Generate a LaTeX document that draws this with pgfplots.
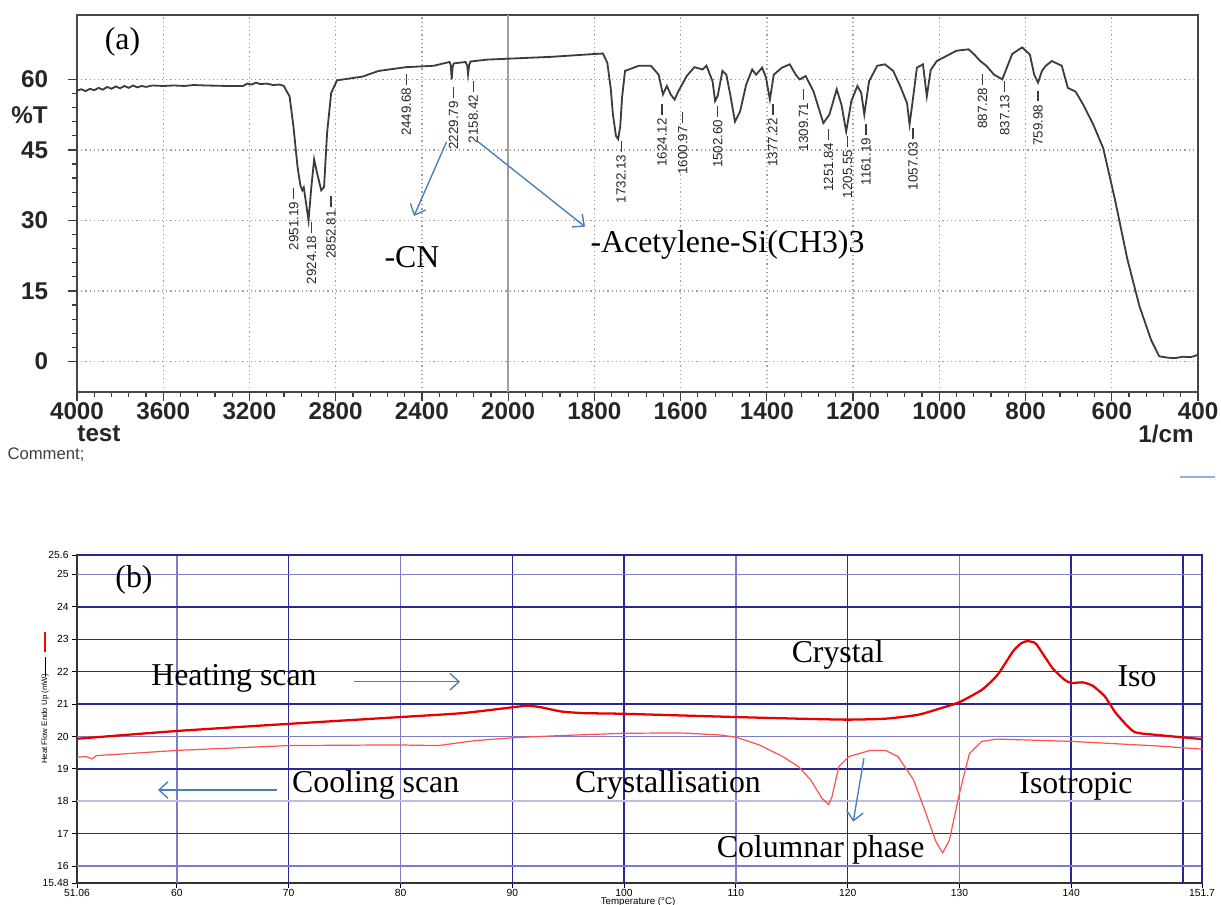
\documentclass[border=0pt]{standalone}
\usepackage{pgfplots}
\pgfplotsset{compat=1.18}
\usepackage{fontspec}
\setmainfont{Liberation Serif}
\newfontfamily\arial{Liberation Sans}
\usetikzlibrary{arrows.meta}
\definecolor{navy}{RGB}{40,40,150}
\definecolor{slate}{RGB}{125,125,200}
\definecolor{arrowblue}{RGB}{74,126,187}
\definecolor{heat}{RGB}{232,0,0}
\definecolor{cool}{RGB}{255,80,80}
\definecolor{irline}{RGB}{60,60,60}
\tikzset{
  ann/.style={font=\fontsize{10.5}{12}\selectfont, inner sep=0pt},
  arr/.style={arrowblue, line width=0.45pt, -{Straight Barb[length=3pt,width=5.5pt]}},
  pkl/.style={rotate=90, anchor=east, font=\arial\fontsize{4.4}{5}\selectfont, inner sep=0.4pt, text=black!85},
}
\newcommand{\pk}[3]{%
  \pgfmathsetmacro\pka{#2+0.3}\pgfmathsetmacro\pkb{#2+2.6}%
  \edef\pktmp{\noexpand\node[pkl] at (axis cs:#1,#2) {#3};
    \noexpand\draw[irline, line width=0.4pt] (axis cs:#1,\pka) -- (axis cs:#1,\pkb);}%
  \pktmp}
\begin{document}
\begin{tikzpicture}
\useasboundingbox (0,0) rectangle (402.93pt,298.65pt);
% ---------------- panel (a) ----------------
\begin{axis}[
  at={(25.41pt,169.29pt)}, anchor=south west, scale only axis,
  width=369.93pt, height=124.41pt,
  x coord trafo/.code={\pgfmathparse{(#1>=2000)*((4000-#1)/400)+(#1<2000)*(5+(2000-#1)/200)}},
  xmin=4000, xmax=400, ymin=-6.5, ymax=73.7,
  xtick={4000,3600,3200,2800,2400,2000,1800,1600,1400,1200,1000,800,600,400},
  xticklabels={4000,3600,3200,2800,2400,2000,1800,1600,1400,1200,1000,800,600,400},
  ytick={0,15,30,45,60},
  minor x tick num=4, minor y tick num=4,
  tick pos=left, tick align=outside,
  major tick length=3pt, minor tick length=1.6pt,
  tick style={irline, line width=0.4pt},
  /pgf/number format/assume math mode=true,
  ticklabel style={font=\arial\bfseries\fontsize{8}{9}\selectfont, text=black!85},
  xticklabel style={yshift=3pt},
  yticklabel style={xshift=-3pt},
  grid=major, major grid style={densely dotted, gray!75, line width=0.45pt},
  axis line style={gray!55!black, line width=0.5pt},
  clip=false,
]
\draw[gray!75, line width=0.5pt] (axis cs:2000,-6.5) -- (axis cs:2000,73.7);
\addplot[irline, line width=0.6pt] coordinates {
(4000,57.6) (3980,57.9) (3960,57.5) (3940,58.0) (3920,57.7) (3900,58.2) (3880,57.8) (3860,58.4)
(3840,58.0) (3820,58.5) (3800,58.1) (3780,58.6) (3760,58.2) (3740,58.7) (3720,58.3) (3700,58.6)
(3680,58.4) (3650,58.7) (3600,58.6) (3550,58.7) (3500,58.6) (3460,58.8) (3400,58.7) (3300,58.6)
(3230,58.6) (3210,59.1) (3190,58.9) (3170,59.3) (3150,59.0) (3120,59.1) (3090,58.8) (3060,58.9)
(3041,58.6) (3014,56.4) (2996,50) (2977,41.4) (2964,37.5) (2955,36.4) (2948,37) (2935,32.9)
(2926,30) (2913,37.1) (2900,43) (2886,40) (2867,36.4) (2854,37.1) (2840,48.6) (2821,57.1)
(2794,59.8) (2748,60.1) (2675,60.6) (2601,61.8) (2473,62.6) (2345,62.9) (2272,63.7) (2266,63)
(2262,60) (2258,62.5) (2253,63.4) (2198,63.7) (2190,63) (2186,61.1) (2181,63) (2175,63.8)
(2100,64.2) (2000,64.4) (1900,64.8) (1800,65.4) (1780,65.5) (1770,63.5) (1762,58) (1757,52.5)
(1750,48) (1745,47.3) (1740,50) (1736,56) (1729,61.8) (1697,62.9) (1669,62.9) (1651,61)
(1641,56.8) (1632,58.6) (1623,56.8) (1614,55.7) (1605,57.5) (1586,60.7) (1568,62.6) (1549,62.1)
(1540,62.9) (1526,59.6) (1520,55.4) (1514,56.5) (1503,61.8) (1494,61) (1485,56.8) (1474,51)
(1462,53.2) (1448,58.9) (1434,62.1) (1425,61) (1411,62.5) (1402,60.4) (1393,55.7) (1384,61)
(1365,62.5) (1347,63.2) (1333,61) (1324,60) (1310,60.7) (1292,57.5) (1269,50.7) (1255,52.5)
(1238,57.9) (1227,54.6) (1216,48.9) (1204,55.4) (1190,58.6) (1181,57.1) (1174,52.5) (1163,59.6)
(1144,62.9) (1126,63.2) (1107,61.8) (1089,58.2) (1080,56.1) (1075,55) (1069,50.4) (1061,56)
(1052,62.5) (1038,63.2) (1029,56.4) (1020,62) (1006,63.9) (960,66.1) (932,66.4) (919,65.3)
(905,63.9) (891,62.9) (873,61) (854,60) (831,65.4) (808,66.8) (790,65.3) (780,61)
(771,59.3) (762,61.8) (753,62.9) (739,63.9) (716,62.9) (702,58.2) (684,57.4) (666,54.6)
(643,50.4) (620,45.4) (593,34.6) (564,21.8) (536,11.8) (509,4.6) (490,1.1) (470,0.8)
(454,0.7) (435,1.0) (417,0.9) (400,1.4)
};
\pk{2995}{34.3}{2951.19}
\pk{2912}{27.1}{2924.18}
\pk{2822}{32.5}{2852.81}
\pk{2473}{58.6}{2449.68}
\pk{2253}{55.7}{2229.79}
\pk{2162}{57.1}{2158.42}
\pk{1738}{44.3}{1732.13}
\pk{1643}{52.1}{1624.12}
\pk{1595}{50.4}{1600.97}
\pk{1514}{51.8}{1502.60}
\pk{1386}{52.1}{1377.22}
\pk{1315}{55.4}{1309.71}
\pk{1257}{46.8}{1251.84}
\pk{1213}{45.4}{1205.55}
\pk{1170}{47.9}{1161.19}
\pk{1061}{47.1}{1057.03}
\pk{900}{58.6}{887.28}
\pk{848}{57.1}{837.13}
\pk{771}{55}{759.98}
\end{axis}
% ---------------- panel (b) ----------------
\begin{axis}[
  at={(25.41pt,7.26pt)}, anchor=south west, scale only axis,
  width=371.25pt, height=108.24pt,
  xmin=51.06, xmax=151.7, ymin=15.48, ymax=25.6,
  xtick={51.06,60,70,80,90,100,110,120,130,140,151.7},
  xticklabels={51.06,60,70,80,90,100,110,120,130,140,151.7},
  ytick={15.48,16,17,18,19,20,21,22,23,24,25,25.6},
  yticklabels={15.48,16,17,18,19,20,21,22,23,24,25,25.6},
  tick pos=left, tick align=outside, major tick length=1.6pt,
  tick style={black, line width=0.3pt},
  /pgf/number format/assume math mode=true,
  ticklabel style={font=\arial\fontsize{3.4}{4}\selectfont, inner sep=1pt},
  xticklabel style={yshift=0.6pt},
  axis line style={black!80, line width=0.4pt},
  clip=false,
]
\pgfplotsinvokeforeach{70,90,100,120,140,150}{\draw[navy, line width=0.5pt] (axis cs:#1,15.48) -- (axis cs:#1,25.6);}
\pgfplotsinvokeforeach{60,80,110,130}{\draw[slate, line width=0.5pt] (axis cs:#1,15.48) -- (axis cs:#1,25.6);}
\pgfplotsinvokeforeach{17,19,21,22,23,24}{\draw[navy, line width=0.5pt] (axis cs:51.06,#1) -- (axis cs:151.7,#1);}
\pgfplotsinvokeforeach{16,20,25}{\draw[slate, line width=0.6pt] (axis cs:51.06,#1) -- (axis cs:151.7,#1);}
\draw[slate!50, line width=0.6pt] (axis cs:51.06,18) -- (axis cs:151.7,18);
\draw[navy, line width=0.5pt] (axis cs:51.06,25.6) -- (axis cs:151.7,25.6) -- (axis cs:151.7,15.48);
% heating scan
\addplot[heat, line width=0.75pt, smooth, tension=0.35] coordinates {
(51.06,19.93) (60,20.17) (70,20.39) (80,20.6) (85.5,20.72) (90,20.9) (91.4,20.95) (92.6,20.9)
(94.4,20.77) (96.5,20.72) (100,20.7) (110,20.6) (115.6,20.55) (120,20.52) (123.4,20.55)
(126.3,20.67) (128.4,20.88) (130,21.06) (132,21.44) (133.4,21.9) (134.8,22.63) (135.5,22.87) (136,22.94)
(136.5,22.92) (136.9,22.84) (138.3,22.12) (139.4,21.75) (140,21.65) (141,21.67) (141.9,21.57) (143,21.24)
(144,20.72) (145.6,20.15) (147.6,20.05) (151.7,19.92)
};
% cooling scan
\addplot[cool, line width=0.4pt] coordinates {
(51.06,19.36) (51.9,19.38) (52.4,19.31) (52.8,19.41) (60,19.57) (70,19.72) (79.5,19.74)
(83.4,19.72) (86.6,19.87) (90,19.96) (93.7,20.02) (100,20.1) (105,20.11) (108.5,20.05)
(110,19.98) (112.1,19.74) (114.2,19.38) (115.6,19.07) (116.7,18.66) (117.7,18.09) (118.3,17.9)
(118.6,18.14) (119.2,19.07) (120.1,19.38) (122,19.57) (123.4,19.57) (124.5,19.38) (125.9,18.66)
(127,17.63) (127.9,16.75) (128.5,16.41) (129.1,16.8) (130,18.25) (130.9,19.48) (132,19.85)
(133.4,19.92) (140,19.85) (147.6,19.71) (151.7,19.61)
};
\end{axis}
% ---------------- annotations ----------------
\begin{scope}[x=0.33pt, y=-0.33pt, shift={(0pt,298.65pt)}]
\node[ann] at (122.5,41.7) {(a)};
\node[ann] at (412,256.7) {-CN};
\node[ann] at (727.5,245) {-Acetylene-Si(CH3)3};
\draw[arr] (446.6,141.7) -- (414,216);
\draw[arr] (478,141.7) -- (585,226.7);
\node[font=\arial\bfseries\fontsize{8}{9}\selectfont, text=black!85] at (29.6,115) {\%T};
\node[font=\arial\bfseries\fontsize{8}{9}\selectfont, text=black!85] at (99,434) {test};
\node[font=\arial\bfseries\fontsize{8}{9}\selectfont, text=black!85] at (1166,434) {1/cm};
\node[font=\arial\fontsize{5.5}{6}\selectfont, text=black!75] at (46,455) {Comment;};
\node[ann] at (134,580) {(b)};
\node[ann] at (234,678) {Heating scan};
\draw[arr] (354,681.7) -- (460,681.7);
\node[ann] at (375.7,785) {Cooling scan};
\draw[arr] (277,790) -- (158,790);
\node[ann] at (668,785) {Crystallisation};
\node[ann] at (837.7,655) {Crystal};
\node[ann] at (1137,676.7) {Iso};
\node[ann] at (1076,786.7) {Isotropic};
\node[ann] at (820.6,850) {Columnar phase};
\draw[arr] (863.9,758.3) -- (853.2,821.7);
\node[rotate=90, font=\arial\fontsize{2.6}{3}\selectfont] at (45,719) {Heat Flow Endo Up (mW)};
\draw[red, line width=0.6pt] (45,632) -- (45,652);
\draw[black, line width=0.3pt] (45,657) -- (45,677);
\node[font=\arial\fontsize{3.2}{4}\selectfont] at (638,901.5) {Temperature (°C)};
\draw[arrowblue!60, line width=0.4pt] (1180,477) -- (1215,477);
\end{scope}
\end{tikzpicture}
\end{document}
